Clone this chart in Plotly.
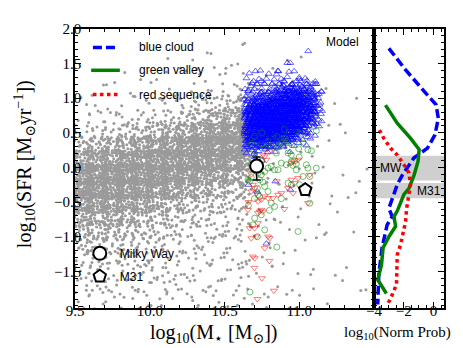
import plotly.graph_objects as go

# ---------------- data ----------------
# Gray model galaxies: number of points per (logM*, logSFR) cell, columns = mass bins (rows bottom->top)
GRAY_X_EDGES = [9.5, 9.6, 9.7, 9.8, 9.9, 10.0, 10.1, 10.2, 10.3, 10.4, 10.5, 10.6, 10.66,
                10.8, 10.9, 11.0, 11.1, 11.2, 11.3, 11.4, 11.5]
GRAY_Y_EDGES = [-2.0, -1.8, -1.6, -1.4, -1.2, -1.0, -0.8, -0.6, -0.4, -0.2, 0.0,
                0.2, 0.4, 0.6, 0.8, 1.0, 1.2, 1.4, 1.6, 1.8, 2.0]
GRAY_COUNTS = [
    [4, 5, 6, 9, 15, 24, 38, 57, 68, 64, 45, 20, 7, 3, 2, 1, 0, 0, 0, 0],
    [4, 5, 6, 9, 13, 21, 35, 53, 67, 65, 49, 25, 9, 4, 2, 1, 0, 0, 0, 0],
    [3, 4, 6, 8, 12, 20, 32, 50, 67, 67, 53, 30, 10, 4, 2, 1, 1, 0, 0, 0],
    [3, 4, 5, 7, 11, 17, 27, 44, 61, 70, 58, 36, 13, 5, 2, 1, 1, 0, 0, 0],
    [3, 4, 5, 7, 10, 15, 25, 40, 58, 69, 62, 42, 17, 6, 3, 1, 1, 0, 0, 0],
    [3, 4, 5, 6, 8, 12, 19, 33, 52, 67, 65, 48, 24, 8, 3, 2, 1, 1, 0, 0],
    [3, 3, 4, 4, 6, 8, 13, 25, 45, 63, 69, 55, 32, 11, 4, 2, 1, 1, 0, 0],
    [3, 3, 4, 4, 5, 7, 10, 18, 36, 58, 70, 60, 38, 14, 5, 2, 1, 1, 0, 0],
    [3, 3, 3, 4, 5, 6, 9, 15, 30, 51, 68, 65, 46, 22, 8, 3, 2, 1, 1, 0],
    [3, 3, 3, 4, 4, 6, 8, 13, 25, 45, 63, 69, 55, 32, 11, 4, 2, 1, 1, 0],
    [2, 3, 3, 4, 4, 5, 7, 10, 18, 36, 58, 70, 61, 39, 14, 5, 2, 1, 1, 0],
    [2, 2, 2, 2, 2, 3, 4, 5, 9, 18, 31, 41, 39, 28, 13, 5, 2, 1, 1, 0],
    [2, 2, 2, 2, 2, 2, 2, 2, 2, 2, 2, 2, 2, 1, 1, 1, 1, 0, 0, 0],
    [1, 1, 1, 1, 1, 1, 1, 1, 1, 1, 1, 1, 1, 1, 1, 1, 1, 0, 0, 0],
    [1, 1, 1, 1, 1, 1, 1, 1, 1, 1, 1, 1, 1, 1, 1, 1, 1, 1, 0, 0],
    [1, 1, 1, 0, 1, 1, 1, 1, 1, 1, 1, 1, 1, 1, 1, 1, 0, 1, 0, 0],
    [1, 0, 1, 0, 1, 0, 1, 1, 1, 0, 1, 1, 1, 1, 0, 1, 0, 0, 0, 0],
    [0, 1, 0, 1, 0, 1, 1, 0, 1, 1, 0, 1, 0, 1, 1, 0, 0, 0, 0, 0],
    [1, 0, 1, 0, 0, 1, 0, 1, 0, 1, 0, 0, 1, 0, 1, 0, 0, 0, 0, 0],
    [0, 1, 0, 0, 1, 0, 0, 1, 0, 0, 1, 0, 0, 0, 0, 0, 0, 0, 0, 0],
]

# Blue-cloud MW-mass galaxies: counts per cell
BLUE_X_EDGES = [10.64, 10.7, 10.75, 10.8, 10.85, 10.9, 10.95, 11.0, 11.05, 11.1, 11.15]
BLUE_Y_EDGES = [0.2, 0.3, 0.4, 0.5, 0.6, 0.7, 0.8, 0.9, 1.0, 1.1, 1.2, 1.3, 1.4, 1.5, 1.6, 1.7, 1.8]
BLUE_COUNTS = [
    [5, 12, 18, 20, 20, 18, 16, 10, 5, 3, 3, 1, 0, 0, 0, 0],
    [4, 12, 20, 22, 22, 20, 18, 12, 5, 3, 3, 1, 0, 0, 0, 0],
    [3, 10, 20, 22, 22, 22, 18, 14, 6, 3, 2, 1, 0, 0, 0, 0],
    [2, 8, 18, 22, 22, 22, 20, 15, 8, 4, 2, 1, 0, 0, 0, 0],
    [1, 6, 16, 20, 22, 22, 20, 16, 12, 6, 3, 1, 0, 0, 0, 0],
    [1, 4, 12, 18, 20, 22, 20, 18, 14, 8, 3, 1, 0, 0, 0, 0],
    [0, 3, 8, 16, 18, 20, 20, 18, 14, 8, 3, 1, 0, 0, 0, 0],
    [0, 1, 4, 10, 14, 16, 16, 16, 12, 7, 3, 0, 0, 0, 0, 0],
    [0, 0, 2, 5, 8, 12, 14, 12, 10, 6, 2, 0, 0, 0, 0, 0],
    [0, 0, 0, 1, 2, 4, 5, 5, 4, 2, 1, 0, 0, 0, 0, 0],
]
BLUE_EXTRA_M = [11.06, 10.92, 10.94, 10.74, 10.86, 11.0, 10.84, 10.94, 10.72, 10.66, 10.78, 10.75, 10.70]
BLUE_EXTRA_SFR = [1.68, 1.51, 1.51, 1.40, 1.39, 1.30, -0.20, -0.32, -0.35, -0.25, -1.10, 0.10, 0.15]

# Green-valley galaxies
GREEN_M = [11.114, 11.058, 11.081, 10.996, 11.025, 10.902, 10.913, 10.880, 10.858, 10.813,
           10.791, 10.746, 10.769, 10.847, 10.925, 10.947, 10.969, 10.980, 10.958, 10.947,
           10.913, 10.880, 10.858, 10.835, 10.813, 10.791, 10.769, 10.746, 10.724, 10.679,
           10.668, 10.657, 10.735, 10.757, 11.047, 11.058, 11.114, 11.070, 10.980, 11.025,
           11.003, 10.947, 10.925, 10.769, 10.791, 10.724, 10.735, 10.813, 10.835, 11.070,
           10.992, 10.769, 10.702, 10.690, 10.746, 10.67, 10.72, 10.85, 10.80, 10.70,
           10.88, 11.00, 10.95, 10.70, 10.68, 10.75, 10.72, 10.66, 10.70, 10.75, 10.85,
           10.90, 11.00, 10.68]
GREEN_SFR = [0.530, 0.256, 0.241, 0.270, 0.352, 0.424, 0.376, 0.352, 0.304, 0.304,
             0.376, 0.338, 0.270, 0.208, 0.208, 0.183, 0.097, 0.048, 0.029, 0.087,
             0.039, 0.063, -0.034, -0.034, 0.015, -0.009, -0.058, -0.106, -0.082, -0.144,
             -0.202, -0.178, -0.178, -0.212, 0.039, -0.009, -0.009, -0.130, -0.034, -0.130,
             -0.250, -0.250, -0.226, -0.274, -0.347, -0.395, -0.419, -0.516, -0.564, -0.516,
             -0.925, -0.901, -0.732, -0.829, -0.684, -1.80, -1.00, -1.15, -0.62, -0.45,
             -0.45, 0.15, 0.33, 0.18, 0.05, 0.10, -0.30, -0.55, 0.45, 0.50, 0.45,
             0.55, 0.50, 0.35]

# Red-sequence galaxies
RED_M = [10.690, 10.702, 10.679, 10.713, 10.724, 10.746, 10.769, 10.791, 10.824, 10.858,
         10.880, 10.947, 10.969, 10.992, 10.958, 10.925, 11.070, 11.058, 10.746, 10.735,
         10.724, 10.757, 10.657, 10.668, 10.702, 10.724, 10.713, 10.791, 10.802, 10.679,
         10.769, 10.690, 10.702, 10.947, 10.958, 10.992, 10.780, 10.769, 10.757, 10.802,
         10.80, 10.83, 10.70, 10.75, 10.72, 10.68, 10.70, 10.85, 10.90, 10.66]
RED_SFR = [-0.250, -0.299, -0.347, -0.371, -0.491, -0.467, -0.419, -0.443, -0.443, -0.395,
           -0.371, -0.178, -0.226, -0.154, -0.371, -0.299, -0.106, -0.516, -0.612, -0.636,
           -0.660, -0.636, -0.612, -0.877, -0.877, -0.805, -0.998, -0.998, -1.022, -1.022,
           -1.166, -1.287, -1.311, 0.063, 0.087, 0.111, 0.111, 0.159, 0.183, 0.232,
           -1.35, -1.78, -1.45, -1.60, -1.90, -0.10, 0.00, -0.20, -0.60, -0.50]

# Milky Way and M31
MW_M, MW_SFR, MW_ERR_UP, MW_ERR_DN = [10.715], [0.02], [0.13], [0.20]
M31_M, M31_SFR = [11.04], [-0.32]
MW_BAND = [-0.19, 0.17]
M31_BAND = [-0.445, -0.225]

# Right panel: log10 normalised probability vs log10 SFR
BLUE_PROB = [-3.0, -1.88, -0.63, 0.16, 0.32, 0.09, -0.41, -1.31, -2.10, -2.44, -3.0,
             -2.78, -3.12, -3.46, -3.68, -3.75]
BLUE_PSFR = [1.72, 1.41, 1.10, 0.91, 0.71, 0.47, 0.28, 0.14, -0.11, -0.25, -0.59,
             -0.71, -0.83, -1.16, -1.55, -1.98]
GREEN_PROB = [-3.23, -2.44, -1.54, -0.97, -1.04, -1.31, -1.65, -1.99, -2.44, -2.66,
              -2.55, -3.0, -3.39, -3.5, -3.75, -3.17]
GREEN_PSFR = [0.90, 0.64, 0.42, 0.26, 0.09, -0.11, -0.30, -0.39, -0.63, -0.71,
              -0.85, -1.0, -1.16, -1.41, -1.62, -1.82]
RED_PROB = [-3.64, -3.34, -2.89, -2.44, -1.99, -1.65, -1.55, -1.81, -1.88, -2.22,
            -2.44, -2.49, -2.49, -2.78, -3.07]
RED_PSFR = [0.54, 0.42, 0.28, 0.18, 0.04, -0.08, -0.25, -0.59, -0.78, -1.12,
            -1.26, -1.55, -1.69, -1.84, -1.97]

X_TICKS = [9.5, 10.0, 10.5, 11.0]
X_TICKTEXT = ["9.5", "10.0", "10.5", "11.0"]
Y_TICKS = [-1.5, -1.0, -0.5, 0.0, 0.5, 1.0, 1.5, 2.0]
Y_TICKTEXT = ["\u22121.5", "\u22121.0", "\u22120.5", "0.0", "0.5", "1.0", "1.5", "2.0"]
P_TICKS = [-4, -2, 0]
P_TICKTEXT = ["\u22124", "\u22122", "0"]


# ---------------- place cell counts as points (deterministic low-discrepancy layout) -------------
def halton(i, b):
    f, r = 1.0, 0.0
    while i > 0:
        f /= b
        r += f * (i % b)
        i //= b
    return r


def cells_to_points(xe, ye, counts, spread, start=1):
    xs, ys = [], []
    k = start
    for ci, col in enumerate(counts):
        x0, x1 = xe[ci], xe[ci + 1]
        for ri, n in enumerate(col):
            y0, y1 = ye[ri], ye[ri + 1]
            cx, cy = (x0 + x1) / 2, (y0 + y1) / 2
            wx, wy = (x1 - x0) * spread, (y1 - y0) * spread
            for _ in range(n):
                k += 1
                xs.append(cx + (halton(k, 2) - 0.5) * wx)
                ys.append(cy + (halton(k, 3) - 0.5) * wy)
    return xs, ys


gx, gy = cells_to_points(GRAY_X_EDGES, GRAY_Y_EDGES, GRAY_COUNTS, 1.5, 7)
bx, by = cells_to_points(BLUE_X_EDGES, BLUE_Y_EDGES, BLUE_COUNTS, 1.25, 11)
bx += BLUE_EXTRA_M
by += BLUE_EXTRA_SFR

SERIF = "Liberation Serif, DejaVu Serif, serif"
SANS = "Liberation Sans, Arial, sans-serif"

fig = go.Figure()
fig.add_trace(go.Scatter(x=gx, y=gy, mode="markers", showlegend=False, hoverinfo="skip",
                         marker=dict(size=3, color="#9a9a9a", line=dict(width=0))))
fig.add_trace(go.Scatter(x=bx, y=by, mode="markers", showlegend=False, hoverinfo="skip",
                         marker=dict(size=6, symbol="triangle-up-open", color="rgba(0,0,255,0.6)",
                                     line=dict(width=1))))
fig.add_trace(go.Scatter(x=GREEN_M, y=GREEN_SFR, mode="markers", showlegend=False,
                         marker=dict(size=6, symbol="circle-open", color="rgba(0,140,0,0.55)",
                                     line=dict(width=1))))
fig.add_trace(go.Scatter(x=RED_M, y=RED_SFR, mode="markers", showlegend=False,
                         marker=dict(size=6, symbol="triangle-down-open", color="rgba(255,0,0,0.5)",
                                     line=dict(width=1))))
fig.add_trace(go.Scatter(x=MW_M, y=MW_SFR, mode="markers", showlegend=False,
                         error_y=dict(type="data", array=MW_ERR_UP, arrayminus=MW_ERR_DN,
                                      color="black", thickness=1.5, width=4),
                         marker=dict(size=0.1, color="rgba(0,0,0,0)")))
fig.add_trace(go.Scatter(x=MW_M, y=MW_SFR, mode="markers", name="Milky Way", legendgroup="mw",
                         marker=dict(size=13, symbol="circle", color="white",
                                     line=dict(width=2, color="black"))))
fig.add_trace(go.Scatter(x=M31_M, y=M31_SFR, mode="markers", name="M31", legendgroup="m31",
                         marker=dict(size=13, symbol="pentagon", color="white",
                                     line=dict(width=2, color="black"))))

# right panel
fig.add_trace(go.Scatter(x=BLUE_PROB, y=BLUE_PSFR, xaxis="x2", yaxis="y2", mode="lines",
                         showlegend=False, line=dict(color="#0000ff", width=3.5, dash="9px,4px")))
fig.add_trace(go.Scatter(x=GREEN_PROB, y=GREEN_PSFR, xaxis="x2", yaxis="y2", mode="lines",
                         showlegend=False, line=dict(color="#008000", width=3.5)))
fig.add_trace(go.Scatter(x=RED_PROB, y=RED_PSFR, xaxis="x2", yaxis="y2", mode="lines",
                         showlegend=False, line=dict(color="#ff0000", width=3.5, dash="3.5px,3.5px")))

shapes = [
    dict(type="rect", xref="x2 domain", yref="y2", x0=0, x1=1, y0=MW_BAND[0], y1=MW_BAND[1],
         fillcolor="#cfcfcf", line=dict(width=0), layer="below"),
    dict(type="rect", xref="x2 domain", yref="y2", x0=0, x1=1, y0=M31_BAND[0], y1=M31_BAND[1],
         fillcolor="#cfcfcf", line=dict(width=0), layer="below"),
    # legend swatches
    dict(type="line", xref="x domain", yref="y domain", x0=0.060, x1=0.147, y0=0.934, y1=0.934,
         line=dict(color="#0000ff", width=3.5, dash="9px,4px")),
    dict(type="line", xref="x domain", yref="y domain", x0=0.054, x1=0.150, y0=0.852, y1=0.852,
         line=dict(color="#008000", width=3.5)),
    dict(type="line", xref="x domain", yref="y domain", x0=0.060, x1=0.150, y0=0.765, y1=0.765,
         line=dict(color="#ff0000", width=3.5, dash="3.5px,3.5px")),
]

ann = []
for txt, yy in [("blue cloud", 0.934), ("green valley", 0.852), ("red sequence", 0.765)]:
    ann.append(dict(text=txt, xref="x domain", yref="y domain", x=0.207, y=yy, xanchor="left",
                    yanchor="middle", showarrow=False, font=dict(family=SANS, size=12, color="black")))
ann += [
    dict(text="Model", xref="x domain", yref="y domain", x=0.957, y=0.953, xanchor="right",
         yanchor="middle", showarrow=False, font=dict(family=SANS, size=12, color="black")),
    dict(text="MW", xref="x2 domain", yref="y2", x=0.05, y=sum(MW_BAND) / 2, xanchor="left",
         yanchor="middle", showarrow=False, font=dict(family=SANS, size=12, color="black")),
    dict(text="M31", xref="x2 domain", yref="y2", x=0.98, y=sum(M31_BAND) / 2, xanchor="right",
         yanchor="middle", showarrow=False, font=dict(family=SANS, size=12, color="black")),
    dict(text="log<sub>10</sub>(M<sub>\u22c6</sub> [M<sub>\u2299</sub>])", xref="paper", yref="paper",
         x=0.378, y=-0.09, xanchor="center", yanchor="middle", showarrow=False,
         font=dict(family=SERIF, size=20, color="black")),
    dict(text="log<sub>10</sub>(Norm Prob)", xref="paper", yref="paper",
         x=0.873, y=-0.09, xanchor="center", yanchor="middle", showarrow=False,
         font=dict(family=SERIF, size=15, color="black")),
    dict(text="log<sub>10</sub>(SFR [M<sub>\u2299</sub>yr<sup>\u22121</sup>])", xref="paper", yref="paper",
         x=-0.136, y=0.515, xanchor="center", yanchor="middle", textangle=-90, showarrow=False,
         font=dict(family=SERIF, size=20, color="black")),
]

axis_common = dict(showline=True, linecolor="black", linewidth=1.5, mirror="ticks", ticks="inside",
                   ticklen=6, tickwidth=1, tickcolor="black", showgrid=False, zeroline=False,
                   tickfont=dict(family=SERIF, size=15, color="black"))

fig.update_layout(
    template="none",
    width=463, height=348,
    margin=dict(l=67, r=27, t=21, b=48),
    paper_bgcolor="white", plot_bgcolor="white",
    showlegend=True,
    legend=dict(x=0.013, y=0.248, xanchor="left", yanchor="top", bgcolor="rgba(0,0,0,0)",
                font=dict(family=SANS, size=12, color="black"), tracegroupgap=4),
    xaxis=dict(domain=[0, 0.8103], range=[9.5, 11.5], tickmode="array", tickvals=X_TICKS,
               ticktext=X_TICKTEXT, anchor="y", ticklabelstandoff=-12,
               minor=dict(ticks="inside", ticklen=3, tickmode="linear", tick0=9.5, dtick=0.1,
                          tickcolor="black", showgrid=False),
               **axis_common),
    yaxis=dict(range=[-2.03, 2.0], tickmode="array", tickvals=Y_TICKS, ticktext=Y_TICKTEXT,
               anchor="x", ticklabelstandoff=-11,
               minor=dict(ticks="inside", ticklen=3, tickmode="linear", tick0=0, dtick=0.1,
                          tickcolor="black", showgrid=False),
               **axis_common),
    xaxis2=dict(domain=[0.8103, 1], range=[-4.0, 0.7], tickmode="array", tickvals=P_TICKS,
                ticktext=P_TICKTEXT, anchor="y2", ticklabelstandoff=-12,
                minor=dict(ticks="inside", ticklen=3, tickmode="linear", tick0=0, dtick=0.5,
                           tickcolor="black", showgrid=False),
                **axis_common),
    yaxis2=dict(range=[-2.03, 2.0], tickmode="array", tickvals=Y_TICKS, showticklabels=False,
                anchor="x2",
                minor=dict(ticks="inside", ticklen=3, tickmode="linear", tick0=0, dtick=0.1,
                           tickcolor="black", showgrid=False),
                **axis_common),
    shapes=shapes,
    annotations=ann,
)

fig.write_html("out.html")
